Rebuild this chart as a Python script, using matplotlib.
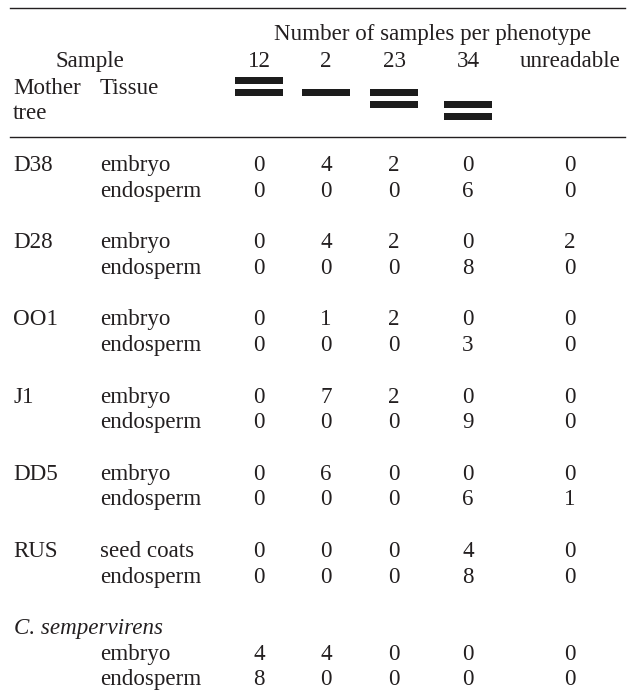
import matplotlib
matplotlib.use("Agg")
import matplotlib.pyplot as plt

# --- data ---------------------------------------------------------------
phenotypes = ["12", "2", "23", "34", "unreadable"]
# band levels (1 = top) shown under each phenotype label
phenotype_bands = [[1, 2], [2], [2, 3], [3, 4], []]

mother_trees = ["D38", "D28", "OO1", "J1", "DD5", "RUS", "C. sempervirens"]
tissues = [
    ["embryo", "endosperm"],
    ["embryo", "endosperm"],
    ["embryo", "endosperm"],
    ["embryo", "endosperm"],
    ["embryo", "endosperm"],
    ["seed coats", "endosperm"],
    ["embryo", "endosperm"],
]
counts = [
    [[0, 4, 2, 0, 0], [0, 0, 0, 6, 0]],
    [[0, 4, 2, 0, 2], [0, 0, 0, 8, 0]],
    [[0, 1, 2, 0, 0], [0, 0, 0, 3, 0]],
    [[0, 7, 2, 0, 0], [0, 0, 0, 9, 0]],
    [[0, 6, 0, 0, 0], [0, 0, 0, 6, 1]],
    [[0, 0, 0, 4, 0], [0, 0, 0, 8, 0]],
    [[4, 4, 0, 0, 0], [8, 0, 0, 0, 0]],
]

# --- layout (pixel units) -----------------------------------------------
W, H = 634, 697
col_x = [259, 326, 394, 468, 570]
tree_x, tissue_x = 13, 100
fs = 16.6
txt = "#231f20"
base = 8  # baseline offset from visual centre of a text row

first_row = 163
group_step = 77.2
row_step = 25.6

plt.rcParams["font.family"] = ["Liberation Serif", "DejaVu Serif"]

fig = plt.figure(figsize=(W / 100, H / 100), dpi=100)
ax = fig.add_axes([0, 0, 1, 1])
ax.set_xlim(0, W)
ax.set_ylim(H, 0)
ax.axis("off")

# rules
ax.plot([10, 625], [7.5, 7.5], color=txt, lw=1.0)
ax.plot([10, 625], [137, 137], color=txt, lw=1.0)

# header
ax.text(433, 32 + base, "Number of samples per phenotype", ha="center",
        va="baseline", fontsize=fs, color=txt)
ax.text(90, 59 + base, "Sample", ha="center", va="baseline", fontsize=fs, color=txt)
ax.text(tree_x, 86 + base, "Mother", ha="left", va="baseline", fontsize=fs, color=txt)
ax.text(tissue_x, 86 + base, "Tissue", ha="left", va="baseline", fontsize=fs, color=txt)
ax.text(tree_x, 111 + base, "tree", ha="left", va="baseline", fontsize=fs, color=txt)
for x, p in zip(col_x, phenotypes):
    ax.text(x, 59 + base, p, ha="center", va="baseline", fontsize=fs, color=txt)

# band pictograms
band_top = 76.7
band_gap = 12
band_h = 7.6
band_w = 48
for x, levels in zip(col_x, phenotype_bands):
    for lv in levels:
        ax.bar(x, band_h, bottom=band_top + (lv - 1) * band_gap, width=band_w,
               color="#1c1c1c", linewidth=0)

# body
for g, tree in enumerate(mother_trees):
    y0 = first_row + g * group_step
    if tree.startswith("C."):
        ax.text(tree_x + 1, y0 + base, tree, ha="left", va="baseline",
                fontsize=fs, color=txt, style="italic")
        y0 += row_step
    else:
        ax.text(tree_x, y0 + base, tree, ha="left", va="baseline",
                fontsize=fs, color=txt)
    for r, (tis, vals) in enumerate(zip(tissues[g], counts[g])):
        y = y0 + r * row_step
        ax.text(tissue_x, y + base, tis, ha="left", va="baseline",
                fontsize=fs, color=txt)
        for x, v in zip(col_x, vals):
            ax.text(x, y + base, str(v), ha="center", va="baseline",
                    fontsize=fs, color=txt)

fig.savefig("out.png", dpi=100, facecolor="white")
